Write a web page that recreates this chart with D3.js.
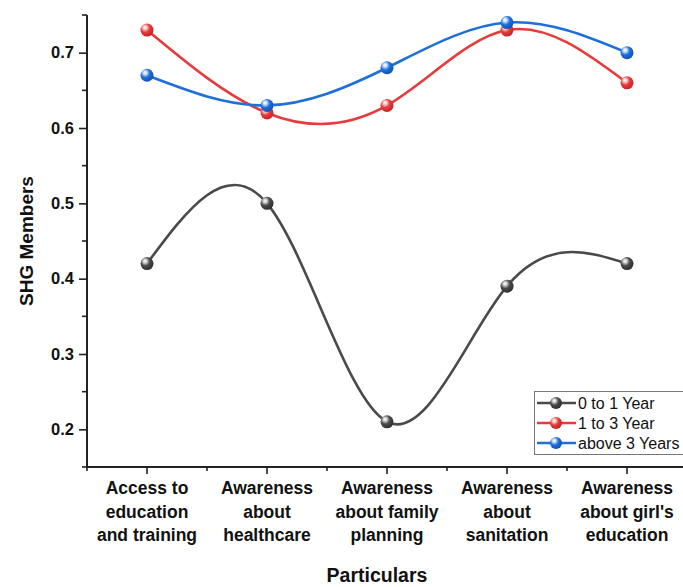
<!DOCTYPE html>
<html><head><meta charset="utf-8">
<script src="https://cdn.jsdelivr.net/npm/d3@7"></script>
<style>html,body{margin:0;padding:0;background:#fff;}svg{display:block;font-family:"Liberation Sans",Arial,sans-serif;}</style>
</head><body>
<svg id="chart" width="683" height="587"></svg>
<script>
const categories = [
  ["Access to","education","and training"],
  ["Awareness","about","healthcare"],
  ["Awareness","about family","planning"],
  ["Awareness","about","sanitation"],
  ["Awareness","about girl's","education"]
];
const seriesNames = ["0 to 1 Year","1 to 3 Year","above 3 Years"];
const gray = [0.42, 0.50, 0.21, 0.39, 0.42];
const red  = [0.73, 0.62, 0.63, 0.73, 0.66];
const blue = [0.67, 0.63, 0.68, 0.74, 0.70];
const yTicks = [0.2, 0.3, 0.4, 0.5, 0.6, 0.7];
const yMinor = [0.15, 0.25, 0.35, 0.45, 0.55, 0.65, 0.75];
const colors = ["#4a4a4a", "#e63b3c", "#1f6fdb"];
const highlights = ["#d8d8d8", "#ffd0d0", "#d0e4ff"];
const darks = ["#2a2a2a", "#c21f22", "#0d4fb0"];

const svg = d3.select("#chart");
const mLeft = 87, mRight = 687, mTop = 15, mBottom = 467;
const x = d3.scaleBand().domain(d3.range(categories.length)).range([mLeft, mRight]).padding(0);
const y = d3.scaleLinear().domain([0.15, 0.75]).range([mBottom, mTop]);
const cx = i => x(i) + x.bandwidth() / 2;

// gradients
const defs = svg.append("defs");
colors.forEach((c, k) => {
  const g = defs.append("radialGradient").attr("id", "g" + k)
    .attr("cx", "0.38").attr("cy", "0.35").attr("r", "0.7").attr("fx", "0.35").attr("fy", "0.3");
  g.append("stop").attr("offset", "0").attr("stop-color", "#ffffff");
  g.append("stop").attr("offset", "0.18").attr("stop-color", highlights[k]);
  g.append("stop").attr("offset", "0.5").attr("stop-color", c);
  g.append("stop").attr("offset", "1").attr("stop-color", darks[k]);
});

// axes
const yAxis = d3.axisLeft(y).tickValues(yTicks).tickSize(8).tickFormat(d3.format(".1f"));
const gy = svg.append("g").attr("transform", `translate(${mLeft},0)`).call(yAxis);
gy.select(".domain").remove();
gy.selectAll(".tick line").attr("stroke", "#222").attr("stroke-width", 1.6);
gy.selectAll(".tick text").attr("font-size", 16.5).attr("font-weight", "bold").attr("fill", "#111").attr("x", -13);
svg.append("g").selectAll("line").data(yMinor).join("line")
  .attr("x1", mLeft - 5).attr("x2", mLeft).attr("y1", d => y(d)).attr("y2", d => y(d))
  .attr("stroke", "#222").attr("stroke-width", 1.6);
svg.append("line").attr("x1", mLeft).attr("x2", mLeft).attr("y1", mTop).attr("y2", mBottom)
  .attr("stroke", "#222").attr("stroke-width", 2);

const xAxis = d3.axisBottom(x).tickSize(7).tickFormat("");
const gx = svg.append("g").attr("transform", `translate(0,${mBottom})`).call(xAxis);
gx.select(".domain").remove();
gx.selectAll(".tick line").attr("stroke", "#222").attr("stroke-width", 1.6);
svg.append("g").selectAll("line").data(d3.range(categories.length + 1)).join("line")
  .attr("x1", d => mLeft + d * x.bandwidth()).attr("x2", d => mLeft + d * x.bandwidth())
  .attr("y1", mBottom).attr("y2", mBottom + 4).attr("stroke", "#222").attr("stroke-width", 1.6);
svg.append("line").attr("x1", mLeft - 1).attr("x2", mRight).attr("y1", mBottom).attr("y2", mBottom)
  .attr("stroke", "#222").attr("stroke-width", 2);

// category labels
categories.forEach((lines, i) => {
  const t = svg.append("text").attr("text-anchor", "middle").attr("font-size", 17.5)
    .attr("font-weight", "bold").attr("fill", "#111");
  lines.forEach((ln, j) => t.append("tspan").attr("x", cx(i)).attr("y", 494 + j * 23.5).text(ln));
});

// axis titles
svg.append("text").attr("x", 377).attr("y", 582).attr("text-anchor", "middle")
  .attr("font-size", 19.5).attr("font-weight", "bold").attr("fill", "#111").text("Particulars");
svg.append("text").attr("transform", `translate(33,${(mTop + mBottom) / 2}) rotate(-90)`)
  .attr("text-anchor", "middle").attr("font-size", 19).attr("font-weight", "bold").attr("fill", "#111").text("SHG Members");

// series
const data = [gray, red, blue];
const line = d3.line().x((d, i) => cx(i)).y(d => y(d)).curve(d3.curveNatural);
data.forEach((s, k) => {
  svg.append("path").attr("d", line(s)).attr("fill", "none").attr("stroke", colors[k]).attr("stroke-width", 2.6);
});
data.forEach((s, k) => {
  svg.append("g").selectAll("circle").data(s).join("circle")
    .attr("cx", (d, i) => cx(i)).attr("cy", d => y(d)).attr("r", 6.5)
    .attr("fill", `url(#g${k})`);
});

// legend
const lg = svg.append("g");
lg.append("rect").attr("x", 534.5).attr("y", 391.5).attr("width", 160).attr("height", 63)
  .attr("fill", "#fff").attr("stroke", "#777").attr("stroke-width", 1);
seriesNames.forEach((n, k) => {
  const yy = 403 + k * 20;
  lg.append("line").attr("x1", 537).attr("x2", 576).attr("y1", yy).attr("y2", yy)
    .attr("stroke", colors[k]).attr("stroke-width", 2.6);
  lg.append("circle").attr("cx", 556).attr("cy", yy).attr("r", 6).attr("fill", `url(#g${k})`);
  lg.append("text").attr("x", 578).attr("y", yy + 5.5).attr("font-size", 16).attr("fill", "#111").text(n);
});
</script>
</body></html>
